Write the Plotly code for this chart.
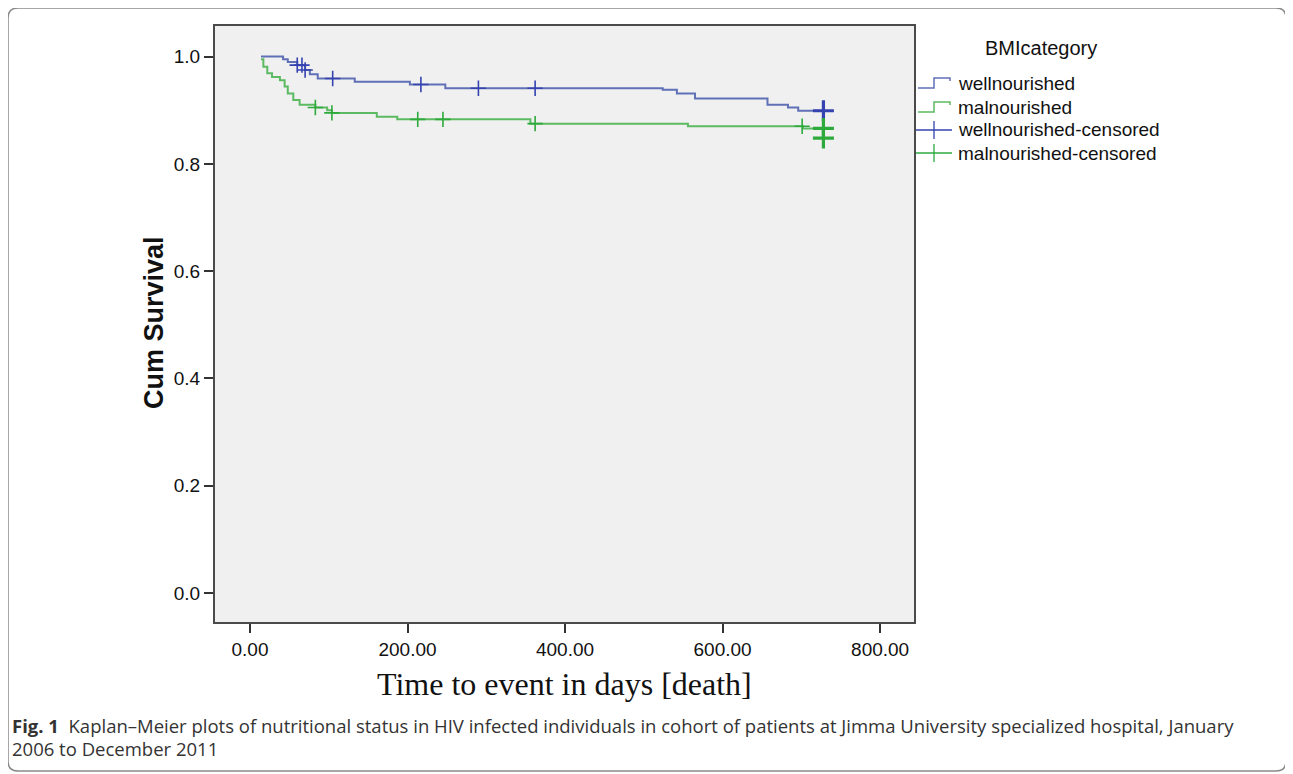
import plotly.graph_objects as go

# ---------------- data ----------------
# Kaplan-Meier step curves (time in days, cumulative survival after each step)
well_times = [14, 42, 48, 60, 70, 76, 86, 133, 203, 248, 524, 542, 565, 657, 683, 696, 728]
well_surv = [1.0, 0.995, 0.990, 0.984, 0.975, 0.967, 0.959, 0.953, 0.948, 0.941, 0.938, 0.931, 0.922, 0.910, 0.905, 0.899, 0.899]

mal_times = [14, 17, 22, 28, 38, 44, 48, 55, 63, 83, 98, 104, 161, 187, 356, 556, 702, 728]
mal_surv = [0.995, 0.981, 0.969, 0.962, 0.956, 0.944, 0.931, 0.919, 0.910, 0.905, 0.900, 0.895, 0.888, 0.883, 0.875, 0.870, 0.866, 0.848]

# censored observations
well_cens_times = [60, 66, 70, 105, 217, 290, 362]
well_cens_surv = [0.984, 0.984, 0.975, 0.959, 0.948, 0.941, 0.941]
well_cens_end_times = [728]
well_cens_end_surv = [0.899]

mal_cens_times = [83, 104, 213, 245, 362, 701]
mal_cens_surv = [0.905, 0.895, 0.883, 0.883, 0.875, 0.870]
mal_cens_end_times = [728, 728]
mal_cens_end_surv = [0.866, 0.848]

x_ticks = [0, 200, 400, 600, 800]
x_tick_labels = ["0.00", "200.00", "400.00", "600.00", "800.00"]
y_ticks = [0.0, 0.2, 0.4, 0.6, 0.8, 1.0]
y_tick_labels = ["0.0", "0.2", "0.4", "0.6", "0.8", "1.0"]

legend_title = "BMIcategory"
legend_labels = ["wellnourished", "malnourished", "wellnourished-censored", "malnourished-censored"]

x_title = "Time to event in days [death]"
y_title = "Cum Survival"
caption_bold = "Fig. 1"
caption_line1 = "Kaplan–Meier plots of nutritional status in HIV infected individuals in cohort of patients at Jimma University specialized hospital, January"
caption_line2 = "2006 to December 2011"

# ---------------- styling ----------------
W, H = 1293, 774
OFF = 8                           # page body margin
L, R, T, B = 215, 914, 26, 622    # plot area in screen pixels

BLUE_LINE = "#6070b6"
GREEN_LINE = "#5cba62"
BLUE_MARK = "#3443b0"
GREEN_MARK = "#2eaa3c"
ARIAL = "Liberation Sans, Arial, sans-serif"


def px(x):
    return (x - L) / (R - L)


def py(y):
    return (B - y) / (B - T)


fig = go.Figure()

fig.add_trace(go.Scatter(x=well_times, y=well_surv, mode="lines", line=dict(color=BLUE_LINE, width=2, shape="hv"),
                         name=legend_labels[0], hoverinfo="x+y"))
fig.add_trace(go.Scatter(x=mal_times, y=mal_surv, mode="lines", line=dict(color=GREEN_LINE, width=2, shape="hv"),
                         name=legend_labels[1], hoverinfo="x+y"))

fig.add_trace(go.Scatter(x=well_cens_times, y=well_cens_surv, mode="markers",
                         marker=dict(symbol="cross-thin", size=11, line=dict(color=BLUE_MARK, width=1.6)),
                         name=legend_labels[2]))
fig.add_trace(go.Scatter(x=well_cens_end_times, y=well_cens_end_surv, mode="markers",
                         marker=dict(symbol="cross-thin", size=15, line=dict(color=BLUE_MARK, width=3.2)),
                         name=legend_labels[2], showlegend=False))
fig.add_trace(go.Scatter(x=mal_cens_times, y=mal_cens_surv, mode="markers",
                         marker=dict(symbol="cross-thin", size=11, line=dict(color=GREEN_MARK, width=1.6)),
                         name=legend_labels[3]))
fig.add_trace(go.Scatter(x=mal_cens_end_times, y=mal_cens_end_surv, mode="markers",
                         marker=dict(symbol="cross-thin", size=15, line=dict(color=GREEN_MARK, width=3.2)),
                         name=legend_labels[3], showlegend=False))

shapes = []
annotations = []

# outer rounded card
x0, y0, x1, y1, r = 8, 8, 1286, 771, 10
path = (f"M {px(x0 + r)},{py(y0)} L {px(x1 - r)},{py(y0)} Q {px(x1)},{py(y0)} {px(x1)},{py(y0 + r)} "
        f"L {px(x1)},{py(y1 - r)} Q {px(x1)},{py(y1)} {px(x1 - r)},{py(y1)} "
        f"L {px(x0 + r)},{py(y1)} Q {px(x0)},{py(y1)} {px(x0)},{py(y1 - r)} "
        f"L {px(x0)},{py(y0 + r)} Q {px(x0)},{py(y0)} {px(x0 + r)},{py(y0)} Z")
shapes.append(dict(type="path", xref="paper", yref="paper", path=path,
                   line=dict(color="#8a8a8a", width=1.5), layer="below"))

# custom legend
legend_rows = [83, 107, 130, 153]
legend_glyph_colors = [BLUE_LINE, GREEN_LINE, BLUE_MARK, GREEN_MARK]
for i, (row, lab, col) in enumerate(zip(legend_rows, legend_labels, legend_glyph_colors)):
    if i < 2:
        p = (f"M {px(918)},{py(row + 5)} L {px(934)},{py(row + 5)} L {px(934)},{py(row - 5)} "
             f"L {px(950)},{py(row - 5)} L {px(950)},{py(row - 2)}")
        shapes.append(dict(type="path", xref="paper", yref="paper", path=p, line=dict(color=col, width=1.5)))
    else:
        shapes.append(dict(type="line", xref="paper", yref="paper", x0=px(916), x1=px(952), y0=py(row), y1=py(row),
                           line=dict(color=col, width=1.3)))
        shapes.append(dict(type="line", xref="paper", yref="paper", x0=px(934), x1=px(934), y0=py(row - 9),
                           y1=py(row + 9), line=dict(color=col, width=1.3)))
    annotations.append(dict(xref="paper", yref="paper", x=px(956), y=py(row), text=lab, showarrow=False,
                            xanchor="left", yanchor="middle", font=dict(family=ARIAL, size=19, color="#111")))
annotations.append(dict(xref="paper", yref="paper", x=px(1041), y=py(48), text=legend_title, showarrow=False,
                        xanchor="center", yanchor="middle", font=dict(family=ARIAL, size=20, color="#111")))

# axis titles
annotations.append(dict(xref="paper", yref="paper", x=0.5, y=py(684), text=x_title, showarrow=False,
                        xanchor="center", yanchor="middle",
                        font=dict(family="Liberation Serif, Times New Roman, serif", size=32, color="#111")))
annotations.append(dict(xref="paper", yref="paper", x=px(154), y=py(323), text=f"<b>{y_title}</b>", showarrow=False,
                        textangle=-90, xanchor="center", yanchor="middle",
                        font=dict(family=ARIAL, size=27, color="#111"), ))

# caption
annotations.append(dict(xref="paper", yref="paper", x=px(10), y=py(725),
                        text=f"<b>{caption_bold}</b>  {caption_line1}", showarrow=False,
                        xanchor="left", yanchor="middle",
                        font=dict(family="Open Sans, sans-serif", size=18.5, color="#333")))
annotations.append(dict(xref="paper", yref="paper", x=px(10), y=py(749), text=caption_line2, showarrow=False,
                        xanchor="left", yanchor="middle",
                        font=dict(family="Open Sans, sans-serif", size=18.5, color="#333")))

fig.update_layout(
    width=W, height=H,
    margin=dict(l=L - OFF, r=W - (R - OFF), t=T - OFF, b=H - (B - OFF), pad=0),
    paper_bgcolor="white",
    plot_bgcolor="#f0f0f0",
    showlegend=False,
    shapes=shapes,
    annotations=annotations,
    xaxis=dict(range=[-44.4, 843], tickvals=x_ticks, ticktext=x_tick_labels, showgrid=False, zeroline=False,
               showline=True, mirror=True, linecolor="#4a4a4a", linewidth=2,
               ticks="outside", ticklen=9, tickwidth=2, tickcolor="#333",
               tickfont=dict(family=ARIAL, size=19, color="#111")),
    yaxis=dict(range=[-0.054, 1.057], tickvals=y_ticks, ticktext=y_tick_labels, showgrid=False, zeroline=False,
               showline=True, mirror=True, linecolor="#4a4a4a", linewidth=2,
               ticks="outside", ticklen=9, tickwidth=2, tickcolor="#333",
               tickfont=dict(family=ARIAL, size=19, color="#111")),
)

fig.write_html("out.html")
